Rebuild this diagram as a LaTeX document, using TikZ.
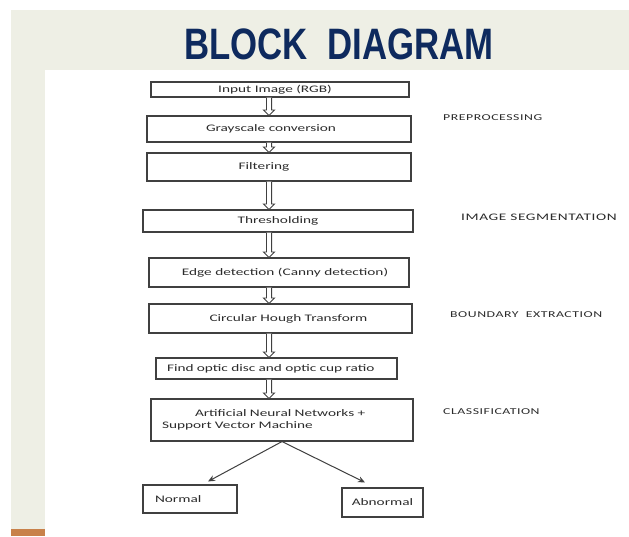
\documentclass[tikz,border=0pt]{standalone}
\usepackage{fontspec}
\usetikzlibrary{arrows.meta,calc}
\newfontfamily\boxfont[FakeStretch=1.53]{Carlito}
\newfontfamily\titlefont[FakeStretch=0.79]{Liberation Sans Bold}
\definecolor{slidebg}{HTML}{EEEFE5}
\definecolor{titleblue}{HTML}{0E2A5E}
\definecolor{boxline}{HTML}{404040}
\definecolor{txtgray}{HTML}{2B2B2B}
\definecolor{barorange}{HTML}{C8814A}
\tikzset{
  stepbox/.style={draw=boxline, line width=1.1pt, fill=white, inner sep=0pt,
    font=\boxfont\fontsize{10}{12}\selectfont, text=txtgray},
  hollowarrow/.style={draw=boxline, line width=0.8pt, fill=white, line join=miter,
    to path={let \p1=(\tikztostart), \p2=(\tikztotarget) in
      (\x1-2.6pt,\y1) -- (\x1-2.6pt,\y2+5.5pt) -- (\x1-5.6pt,\y2+5.5pt) -- (\x1,\y2)
      -- (\x1+5.6pt,\y2+5.5pt) -- (\x1+2.6pt,\y2+5.5pt) -- (\x1+2.6pt,\y1)}},
  thinarrow/.style={draw=boxline, line width=1pt, -{Stealth[length=7pt,width=6pt]}},
  phaselabel/.style={anchor=west, inner sep=0pt, text=txtgray,
    font=\boxfont\fontsize{9}{11}\selectfont\addfontfeature{LetterSpace=6}}
}
\begin{document}
\begin{tikzpicture}[x=1pt,y=-1pt]
\useasboundingbox (0,0) rectangle (629,536);
% background
\fill[white] (0,0) rectangle (629,536);
\fill[slidebg] (11,10) rectangle (629,536);
\fill[white] (45,70) rectangle (629,536);
\fill[barorange] (11,529) rectangle (45,536);
% title
\node[text=titleblue, font=\titlefont\fontsize{44}{46}\selectfont, inner sep=0pt] (title) at (339,44) {BLOCK\ \ DIAGRAM};
% boxes
\node[stepbox, minimum width=258pt, minimum height=15pt] (in) at (280,89.5) {Input Image (RGB)\hspace*{10pt}};
\node[stepbox, minimum width=264pt, minimum height=26pt] (gray) at (279,129) {Grayscale conversion\hspace*{16pt}};
\node[stepbox, minimum width=264pt, minimum height=28pt] (filt) at (279,167) {Filtering\hspace*{30pt}};
\node[stepbox, minimum width=270pt, minimum height=22pt] (thr) at (278,221) {Thresholding};
\node[stepbox, minimum width=260pt, minimum height=29pt] (edge) at (279,272.5) {\hspace*{12pt}Edge detection (Canny detection)};
\node[stepbox, minimum width=263pt, minimum height=29pt] (hough) at (280.5,318.5) {\hspace*{16pt}Circular Hough Transform};
\node[stepbox, minimum width=241pt, minimum height=21pt, text width=219pt, align=left] (find) at (276.5,368.5) {Find optic disc and optic cup ratio};
\node[stepbox, minimum width=262pt, minimum height=42pt, text width=240pt, align=left] (ann) at (282,420) {\hspace*{33pt}Artificial Neural Networks +\\Support Vector Machine};
\node[stepbox, minimum width=94pt, minimum height=28pt, text width=70pt, align=left] (normal) at (190,499) {Normal};
\node[stepbox, minimum width=81pt, minimum height=29pt] (abnormal) at (382.5,502.5) {Abnormal};
% arrow column
\coordinate (ax) at (269,0);
\draw[hollowarrow] (in.south -| ax) to (gray.north -| ax);
\draw[hollowarrow] (gray.south -| ax) to (filt.north -| ax);
\draw[hollowarrow] (filt.south -| ax) to (thr.north -| ax);
\draw[hollowarrow] (thr.south -| ax) to (edge.north -| ax);
\draw[hollowarrow] (edge.south -| ax) to (hough.north -| ax);
\draw[hollowarrow] (hough.south -| ax) to (find.north -| ax);
\draw[hollowarrow] (find.south -| ax) to (ann.north -| ax);
\draw[thinarrow] (ann.south) -- ($(normal.north)+(18,-3)$);
\draw[thinarrow] (ann.south) -- ($(abnormal.north)+(-17.5,-5)$);
% phase labels
\node[phaselabel] (pre) at (443,118) {PREPROCESSING};
\node[phaselabel, font=\boxfont\fontsize{10}{12}\selectfont\addfontfeature{LetterSpace=6}] (seg) at (461,217) {IMAGE SEGMENTATION};
\node[phaselabel] (bnd) at (450,315) {BOUNDARY\ \ EXTRACTION};
\node[phaselabel] (cls) at (443,412) {CLASSIFICATION};
\end{tikzpicture}
\end{document}
